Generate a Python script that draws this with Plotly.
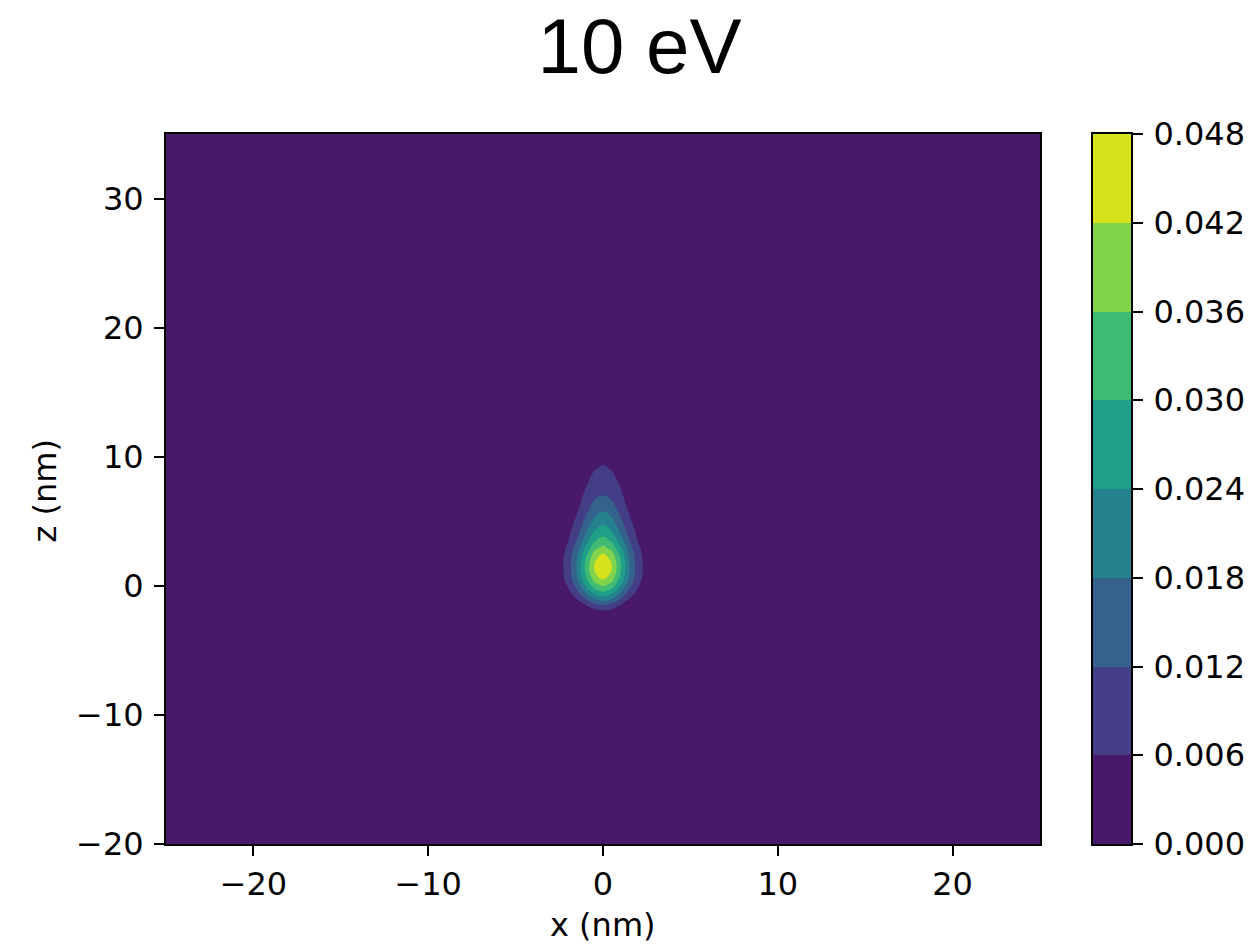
import plotly.graph_objects as go

# ---- data ----
title_text = "10 eV"
levels = [0.000, 0.006, 0.012, 0.018, 0.024, 0.030, 0.036, 0.042, 0.048]
level_labels = ["0.000", "0.006", "0.012", "0.018", "0.024", "0.030", "0.036", "0.042", "0.048"]
band_colors = ["#48186a", "#433e85", "#34628d", "#26818e",
               "#209f88", "#3fbb74", "#82d34c", "#d5e21c"]

x_ticks = [-20, -10, 0, 10, 20]
x_ticklabels = ["\u221220", "\u221210", "0", "10", "20"]
z_ticks = [-20, -10, 0, 10, 20, 30]
z_ticklabels = ["\u221220", "\u221210", "0", "10", "20", "30"]

# x positions (nm) for x >= 0; field is mirror-symmetric about x = 0
x_half = [0, 0.5, 1.0, 1.5, 2.0, 2.5, 3.0, 4.0, 25]
z_nm = [-20, -3, -2.5, -2, -1.5, -1, -0.5, 0, 0.5, 1, 1.5, 2, 2.5, 3, 3.5, 4,
        5, 6, 7, 8, 9, 10, 11, 12, 14, 35]
# values at (z_nm[i], x_half[j])
field_half = [
    [0, 0, 0, 0, 0, 0, 0, 0, 0],
    [0, 0, 0, 0, 0, 0, 0, 0, 0],
    [0.0015, 0.00123, 0.00069, 0.00026, 0.00007, 0.00001, 0, 0, 0],
    [0.0045, 0.0037, 0.00206, 0.00077, 0.0002, 0.00003, 0, 0, 0],
    [0.0115, 0.00967, 0.00575, 0.00243, 0.00072, 0.00015, 0.00002, 0, 0],
    [0.021, 0.0183, 0.01208, 0.00604, 0.00229, 0.00066, 0.00014, 0, 0],
    [0.0293, 0.02605, 0.01828, 0.01014, 0.00445, 0.00154, 0.00042, 0.00001, 0],
    [0.0368, 0.03301, 0.02377, 0.01376, 0.0064, 0.0024, 0.00072, 0.00003, 0],
    [0.0423, 0.03815, 0.028, 0.01671, 0.00808, 0.0032, 0.00103, 0.00006, 0],
    [0.0458, 0.04131, 0.03032, 0.01809, 0.00875, 0.00346, 0.00111, 0.00006, 0],
    [0.047, 0.04239, 0.03111, 0.01857, 0.00898, 0.00355, 0.00114, 0.00006, 0],
    [0.0455, 0.04104, 0.03012, 0.01797, 0.00869, 0.00344, 0.00111, 0.00006, 0],
    [0.042, 0.03788, 0.0278, 0.01659, 0.00802, 0.00318, 0.00102, 0.00006, 0],
    [0.037, 0.03337, 0.02449, 0.01462, 0.00707, 0.0028, 0.0009, 0.00005, 0],
    [0.0326, 0.02924, 0.02106, 0.01219, 0.00567, 0.00213, 0.00064, 0.00003, 0],
    [0.0286, 0.02554, 0.01816, 0.01031, 0.00466, 0.00168, 0.00048, 0.00002, 0],
    [0.0221, 0.0195, 0.0134, 0.00718, 0.00299, 0.00097, 0.00025, 0.00001, 0],
    [0.0168, 0.01463, 0.00966, 0.00483, 0.00183, 0.00053, 0.00011, 0, 0],
    [0.0122, 0.01063, 0.00702, 0.00351, 0.00133, 0.00038, 0.00008, 0, 0],
    [0.0095, 0.00814, 0.00512, 0.00237, 0.0008, 0.0002, 0.00004, 0, 0],
    [0.0068, 0.00583, 0.00367, 0.00169, 0.00058, 0.00014, 0.00003, 0, 0],
    [0.0045, 0.00386, 0.00243, 0.00112, 0.00038, 0.0001, 0.00002, 0, 0],
    [0.003, 0.00257, 0.00162, 0.00075, 0.00025, 0.00006, 0.00001, 0, 0],
    [0.002, 0.00171, 0.00108, 0.0005, 0.00017, 0.00004, 0.00001, 0, 0],
    [0.0008, 0.00069, 0.00043, 0.0002, 0.00007, 0.00002, 0, 0, 0],
    [0, 0, 0, 0, 0, 0, 0, 0, 0],
]

# ---- build full symmetric grid ----
x_nm = [-v for v in x_half[:0:-1]] + x_half
field = [row[:0:-1] + row for row in field_half]

# step colorscale (band k -> band_colors[k])
bounds = [0, 0.15, 0.27, 0.385, 0.5, 0.615, 0.73, 0.85, 1.0]
cscale = []
for k, c in enumerate(band_colors):
    cscale.append([bounds[k], c])
    cscale.append([bounds[k + 1], c])

W, H = 1251, 945
px = lambda v: v / W
py = lambda v: 1 - v / H

FONT = "DejaVu Sans"
FS = 32

fig = go.Figure()
fig.add_trace(go.Contour(
    x=x_nm, y=z_nm, z=field,
    autocontour=False,
    contours=dict(start=levels[0], end=levels[-1], size=levels[1] - levels[0],
                  coloring="fill", showlines=False),
    line=dict(width=0, smoothing=1.1),
    colorscale=cscale, showscale=False, hoverinfo="skip",
    xaxis="x", yaxis="y",
))

mids = [(levels[i] + levels[i + 1]) / 2 for i in range(len(levels) - 1)]
fig.add_trace(go.Heatmap(
    x=[0], y=mids, z=[[m] for m in mids],
    zmin=levels[0], zmax=levels[-1], colorscale=cscale, showscale=False,
    hoverinfo="skip", xaxis="x2", yaxis="y2",
))

ydom = [1 - 844 / H, 1 - 134 / H]
tickfont = dict(family=FONT, size=FS, color="black")
common = dict(ticks="outside", ticklen=10, tickwidth=1.5, tickcolor="black",
              showline=True, linecolor="black", linewidth=2, mirror=True,
              showgrid=False, zeroline=False, tickfont=tickfont, automargin=False)

fig.update_layout(
    width=W, height=H,
    margin=dict(l=0, r=0, t=0, b=0, autoexpand=False),
    paper_bgcolor="white", plot_bgcolor="white",
    showlegend=False,
    xaxis=dict(domain=[166 / W, 1040 / W], range=[-25, 25], tickvals=x_ticks,
               ticktext=x_ticklabels, anchor="y", ticklabelstandoff=1, **common),
    yaxis=dict(domain=ydom, range=[-20, 35], tickvals=z_ticks,
               ticktext=z_ticklabels, anchor="x", ticklabelstandoff=4, **common),
    xaxis2=dict(domain=[1093 / W, 1131 / W], range=[-0.5, 0.5], showticklabels=False,
                ticks="", showline=True, linecolor="black", linewidth=2, mirror=True,
                showgrid=False, zeroline=False, anchor="y2", automargin=False),
    yaxis2=dict(domain=ydom, range=[levels[0], levels[-1]], side="right",
                tickvals=levels, ticktext=level_labels, anchor="x2",
                ticklabelstandoff=4, **common),
    title=dict(text=title_text, x=639.5 / W, xanchor="center", xref="paper",
               y=1 - 46 / H, yanchor="middle", yref="container",
               font=dict(family="Liberation Sans", size=78, color="black")),
    annotations=[
        dict(text="x (nm)", x=603 / W, y=py(925), xref="paper", yref="paper",
             xanchor="center", yanchor="middle", showarrow=False,
             font=dict(family=FONT, size=FS, color="black")),
        dict(text="z (nm)", x=px(44.7), y=py(490.8), xref="paper", yref="paper",
             xanchor="center", yanchor="middle", showarrow=False, textangle=-90,
             font=dict(family=FONT, size=FS, color="black")),
    ],
)

fig.write_html("out.html")
